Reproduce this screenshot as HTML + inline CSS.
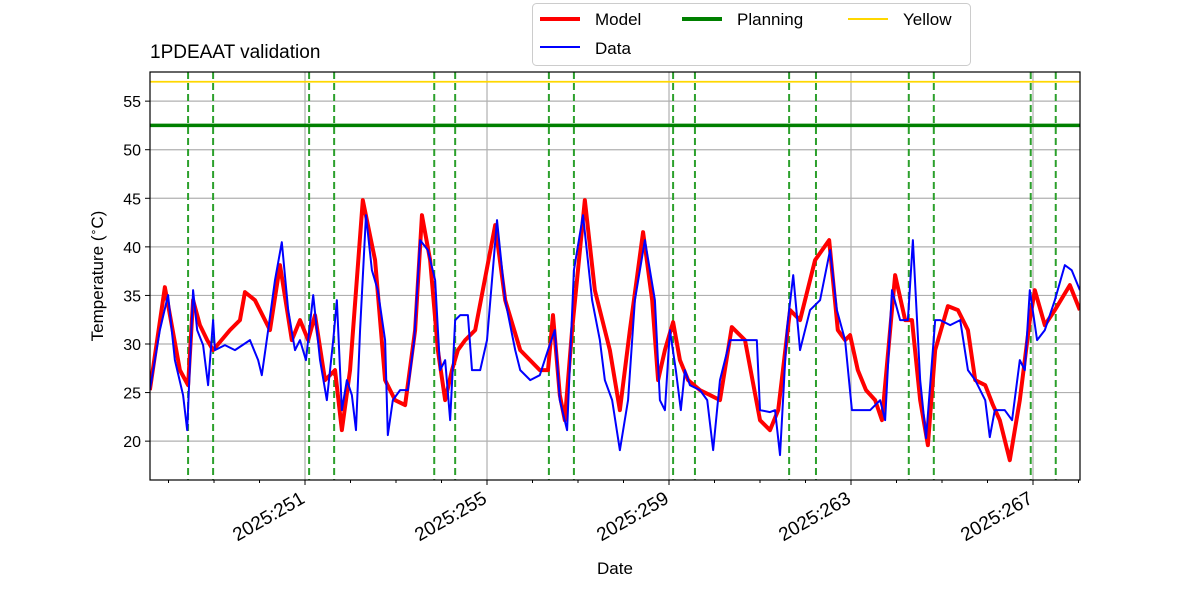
<!DOCTYPE html>
<html><head><meta charset="utf-8"><style>
body{margin:0;background:#fff;}
svg{display:block;font-family:"Liberation Sans","DejaVu Sans",sans-serif;}
</style></head><body>
<svg id="chart" width="1200" height="600" viewBox="0 0 1200 600">
<defs><clipPath id="clip"><rect x="150" y="72" width="930" height="408"/></clipPath></defs>
<rect x="0" y="0" width="1200" height="600" fill="#fff"/>
<g id="grid"></g>
<g id="marks" clip-path="url(#clip)"></g>
<rect x="150" y="72" width="930" height="408" fill="none" stroke="#000" stroke-width="1.2"/>
<g id="axes"></g>
<text x="150" y="58" font-size="19" fill="#000">1PDEAAT validation</text>
<text x="615" y="574" font-size="17" text-anchor="middle">Date</text>
<text transform="translate(103,276) rotate(-90)" font-size="17" text-anchor="middle">Temperature (<tspan baseline-shift="super" font-size="11">∘</tspan>C)</text>
<g>
<rect x="532.5" y="3.5" width="438" height="62" rx="4" fill="#fff" stroke="#ccc"/>
<g><line x1="540" y1="19" x2="580" y2="19" stroke="red" stroke-width="4"/><text x="595" y="25" font-size="17">Model</text></g>
<g><line x1="540" y1="47" x2="580" y2="47" stroke="blue" stroke-width="2"/><text x="595" y="54" font-size="17">Data</text></g>
<g><line x1="682" y1="19" x2="722" y2="19" stroke="green" stroke-width="4"/><text x="737" y="25" font-size="17">Planning</text></g>
<g><line x1="848" y1="19" x2="888" y2="19" stroke="gold" stroke-width="2"/><text x="903" y="25" font-size="17">Yellow</text></g>
</g>
</svg>
<script>
const yTicks=[20,25,30,35,40,45,50,55];
const xTicks=[251,255,259,263,267];
const xTickLabels=["2025:251","2025:255","2025:259","2025:263","2025:267"];
const planningLimit=52.5;
const yellowLimit=57;
const eventDays=[248.43,248.98,251.09,251.64,253.84,254.30,256.36,256.91,259.09,259.57,261.64,262.23,264.27,264.82,266.95,267.50];
const modelDays=[247.59,247.92,248.25,248.43,248.54,248.69,248.85,248.98,249.35,249.57,249.68,249.90,250.12,250.23,250.45,250.71,250.89,251.07,251.22,251.44,251.66,251.81,251.99,252.27,252.54,252.76,252.98,253.20,253.42,253.57,253.75,253.92,254.08,254.23,254.36,254.52,254.74,255.18,255.40,255.73,256.16,256.34,256.45,256.60,256.71,256.87,257.15,257.37,257.70,257.92,258.14,258.43,258.63,258.76,258.91,259.09,259.24,259.42,259.68,259.90,260.12,260.38,260.67,261.00,261.22,261.40,261.66,261.88,262.21,262.52,262.71,262.87,262.98,263.15,263.33,263.53,263.68,263.97,264.19,264.34,264.52,264.69,264.85,265.13,265.35,265.57,265.73,265.95,266.12,266.27,266.49,266.71,266.93,267.04,267.26,267.48,267.81,268.03];
const modelTemps=[25.25,35.85,27.31,25.76,34.51,31.94,30.40,29.37,31.43,32.46,35.34,34.51,32.46,31.43,38.12,30.40,32.46,30.40,32.97,26.28,27.31,21.13,27.31,44.81,38.63,26.28,24.22,23.71,31.43,43.26,38.63,29.37,24.22,27.31,29.37,30.40,31.43,42.24,34.51,29.37,27.31,27.31,32.97,24.74,22.16,31.43,44.81,35.54,29.37,23.19,31.43,41.51,34.51,26.28,29.37,32.25,28.34,26.28,25.25,24.74,24.22,31.74,30.40,22.16,21.13,23.19,33.49,32.46,38.63,40.69,31.43,30.40,30.91,27.31,25.25,24.22,22.16,37.09,32.46,32.46,24.22,19.59,29.37,33.90,33.49,31.43,26.28,25.76,23.71,22.16,18.04,24.22,32.46,35.54,31.94,33.49,36.06,33.49];
const dataDays=[247.59,247.81,247.99,248.14,248.32,248.41,248.54,248.63,248.76,248.87,248.98,249.02,249.24,249.46,249.79,249.97,250.05,250.19,250.34,250.49,250.63,250.78,250.89,251.02,251.18,251.33,251.48,251.62,251.70,251.81,251.92,252.03,252.12,252.21,252.34,252.47,252.60,252.76,252.82,252.93,253.09,253.26,253.40,253.53,253.70,253.86,253.97,254.08,254.19,254.30,254.41,254.58,254.67,254.85,255.00,255.22,255.40,255.62,255.73,255.95,256.16,256.34,256.49,256.60,256.76,256.91,257.11,257.31,257.48,257.59,257.75,257.92,258.10,258.25,258.47,258.69,258.80,258.91,259.02,259.15,259.26,259.35,259.46,259.68,259.84,259.97,260.12,260.34,260.67,260.93,261.00,261.22,261.33,261.44,261.59,261.73,261.88,262.10,262.32,262.54,262.69,262.87,263.02,263.42,263.64,263.75,263.90,264.08,264.25,264.36,264.52,264.65,264.85,264.96,265.18,265.40,265.57,265.73,265.95,266.05,266.16,266.38,266.54,266.71,266.82,266.93,267.09,267.26,267.48,267.70,267.85,268.03];
const dataTemps=[25.25,31.43,35.03,28.34,24.74,21.13,35.54,31.43,29.88,25.76,32.46,29.37,29.88,29.37,30.40,28.34,26.79,31.43,36.57,40.48,33.49,29.37,30.40,28.34,35.03,28.34,24.22,30.40,34.51,23.19,26.28,24.74,21.13,31.43,43.26,37.60,35.54,30.40,20.62,24.22,25.25,25.25,30.40,40.69,39.66,36.57,27.31,28.34,22.16,32.46,32.97,32.97,27.31,27.31,30.40,42.75,34.51,29.37,27.31,26.28,26.79,29.37,31.43,24.22,21.13,37.60,43.26,34.51,30.40,26.28,24.22,19.07,24.22,34.51,40.69,34.51,24.22,23.19,31.43,27.31,23.19,27.31,25.76,25.25,24.22,19.07,26.28,30.40,30.40,30.40,23.19,22.99,23.19,18.56,31.43,37.09,29.37,33.49,34.51,39.66,33.49,30.40,23.19,23.19,24.22,22.16,35.54,32.46,32.46,40.69,26.28,20.31,32.46,32.46,31.94,32.46,27.31,26.28,24.22,20.41,23.19,23.19,22.16,28.34,27.31,35.54,30.40,31.43,34.51,38.12,37.60,35.54];

const X0=150,X1=1080,Y0=72,Y1=480,DMIN=247.593,DMAX=268.033,TMIN=16,TMAX=58;
const xs=d=>X0+(d-DMIN)/(DMAX-DMIN)*(X1-X0);
const ys=t=>Y1-(t-TMIN)/(TMAX-TMIN)*(Y1-Y0);
const NS="http://www.w3.org/2000/svg";
function mk(tag,attrs,parent){const e=document.createElementNS(NS,tag);for(const k in attrs)e.setAttribute(k,attrs[k]);parent.appendChild(e);return e;}
const grid=document.getElementById('grid'),marks=document.getElementById('marks'),axes=document.getElementById('axes');
yTicks.forEach(t=>{
  const g=mk('line',{x1:X0,x2:X1,y1:ys(t),y2:ys(t),stroke:'#b0b0b0','stroke-width':1.2},grid);
  
  
  const tk=mk('line',{x1:X0-5,x2:X0,y1:ys(t),y2:ys(t),stroke:'#000'},axes);
  
  
  const lb=mk('text',{x:X0-9,y:ys(t)+6,'font-size':16,'text-anchor':'end'},axes);
  lb.textContent=t;
  
  
});
for(let d=248;d<=268;d++){
  const m=mk('line',{x1:xs(d),x2:xs(d),y1:Y1,y2:Y1+3,stroke:'#000'},axes);
  
  
}
xTicks.forEach((d,i)=>{
  const g=mk('line',{x1:xs(d),x2:xs(d),y1:Y0,y2:Y1,stroke:'#b0b0b0','stroke-width':1.2},grid);
  
  
  const tk=mk('line',{x1:xs(d),x2:xs(d),y1:Y1,y2:Y1+5,stroke:'#000'},axes);
  
  
  const lb=mk('text',{x:0,y:0,'font-size':19,'text-anchor':'end',transform:`translate(${xs(d)+1},${Y1+22}) rotate(-30)`},axes);
  lb.textContent=xTickLabels[i];
  
  
});
const pl=mk('line',{x1:X0,x2:X1,y1:ys(planningLimit),y2:ys(planningLimit),stroke:'green','stroke-width':3.5},marks);


const yl=mk('line',{x1:X0,x2:X1,y1:ys(yellowLimit),y2:ys(yellowLimit),stroke:'gold','stroke-width':1.8},marks);


eventDays.forEach(d=>{
  const v=mk('line',{x1:xs(d),x2:xs(d),y1:Y0,y2:Y1,stroke:'#2ca02c','stroke-width':2,'stroke-dasharray':'7,4'},marks);
  
  
});
const mp=mk('polyline',{points:modelDays.map((d,i)=>xs(d)+','+ys(modelTemps[i])).join(' '),fill:'none',stroke:'red','stroke-width':4,'stroke-linejoin':'round'},marks);


const dp=mk('polyline',{points:dataDays.map((d,i)=>xs(d)+','+ys(dataTemps[i])).join(' '),fill:'none',stroke:'blue','stroke-width':2,'stroke-linejoin':'round'},marks);


</script>
</body></html>
